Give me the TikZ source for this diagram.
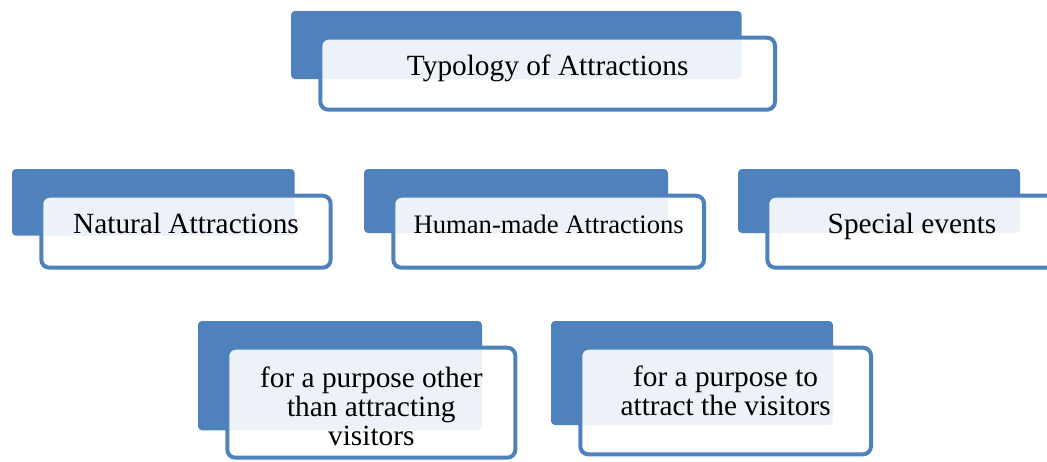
\documentclass[tikz,border=0pt]{standalone}
\usepackage{fontspec}
\setmainfont{Liberation Serif}
\usepackage{xcolor}
\usepackage{tikz}
\usetikzlibrary{positioning}

\definecolor{boxblue}{RGB}{79,129,189}

\begin{document}
\begin{tikzpicture}[
  x=0.75pt,y=-0.75pt,
  back/.style={fill=boxblue,rounded corners=3pt,anchor=north west,
    inner sep=0pt,outer sep=0pt},
  front/.style={draw=boxblue,line width=3pt,rounded corners=6pt,
    fill=white,fill opacity=0.9,text opacity=1,anchor=north west,
    align=center,inner sep=0pt,outer sep=0pt,
    text height=28pt,text depth=26pt,
    font=\fontsize{22pt}{22pt}\selectfont}
]
\useasboundingbox (0,0) rectangle (1047,461);
\clip (0,0) rectangle (1047,461);
% top
\node[back,minimum width=338pt,minimum height=51pt] (typB) at (291,11) {};
\node[front,minimum width=341pt,below right=20pt and 22pt of typB.north west]
  (typ) {Typology of Attractions};
% middle row
\node[back,minimum width=212pt,minimum height=50pt] (natB) at (12,169) {};
\node[front,minimum width=217pt,below right=20pt and 22pt of natB.north west]
  (nat) {Natural Attractions};
\node[back,minimum width=228pt,minimum height=48pt] (humB) at (364,169) {};
\node[front,minimum width=233pt,font=\fontsize{20pt}{20pt}\selectfont,
  below right=20pt and 22pt of humB.north west] (hum) {Human-made Attractions};
\node[back,minimum width=211.5pt,minimum height=48pt] (evtB) at (738,169) {};
\node[front,minimum width=217pt,below right=20pt and 22pt of evtB.north west]
  (evt) {Special events};
% bottom row
\node[back,minimum width=213pt,minimum height=82pt] (othB) at (198,321) {};
\node[front,minimum width=216pt,text height=73.5pt,text depth=9pt,
  below right=20pt and 22pt of othB.north west]
  (oth) {for a purpose other\\than attracting\\visitors};
\node[back,minimum width=211.5pt,minimum height=78pt] (visB) at (551,321) {};
\node[front,minimum width=218pt,text height=51pt,text depth=29pt,
  below right=20pt and 22pt of visB.north west]
  (vis) {for a purpose to\\attract the visitors};
\end{tikzpicture}
\end{document}
